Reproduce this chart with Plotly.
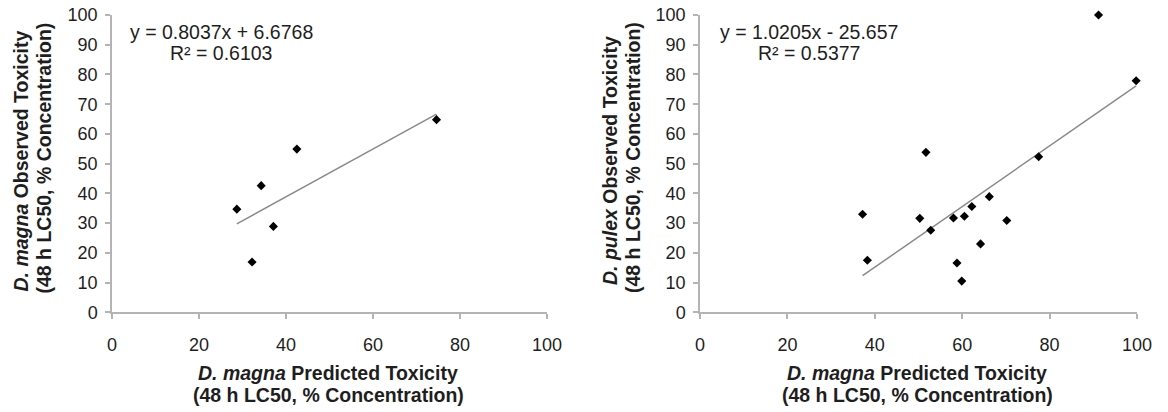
import plotly.graph_objects as go

# D. magna: predicted vs observed 48 h LC50 (% concentration)
magna_pred = [28.7, 34.3, 32.2, 37.1, 42.5, 74.6]
magna_obs = [34.7, 42.6, 16.9, 28.9, 54.9, 64.8]
magna_slope, magna_intercept, magna_r2 = 0.8037, 6.6768, 0.6103

# D. pulex observed vs D. magna predicted
pulex_pred = [37.2, 38.3, 50.3, 51.7, 52.8, 58.0, 58.8, 59.9, 60.5, 62.2,
              64.2, 66.2, 70.2, 77.5, 91.2, 99.8]
pulex_obs = [33.0, 17.5, 31.6, 53.8, 27.6, 31.7, 16.6, 10.5, 32.3, 35.6,
             23.0, 38.9, 30.9, 52.3, 100.0, 77.9]
pulex_slope, pulex_intercept, pulex_r2 = 1.0205, -25.657, 0.5377

axis_ticks = [0, 20, 40, 60, 80, 100]

FONT = "Liberation Sans, Arial, sans-serif"
TXT = "#1e1e1e"
AXC = "#b4b4b4"
W, H = 1168, 412


def px(xp):
    return xp / W


def py(yp):
    return 1 - yp / H


def trend(xs, m, b):
    lo, hi = min(xs), max(xs)
    return [lo, hi], [m * lo + b, m * hi + b]


fig = go.Figure()

for xs, ys, m, b, xa, ya in [
    (magna_pred, magna_obs, magna_slope, magna_intercept, "x", "y"),
    (pulex_pred, pulex_obs, pulex_slope, pulex_intercept, "x2", "y2"),
]:
    tx, ty = trend(xs, m, b)
    fig.add_trace(go.Scatter(x=tx, y=ty, mode="lines", xaxis=xa, yaxis=ya,
                             line=dict(color="#8a8a8a", width=1.5),
                             showlegend=False, hoverinfo="skip"))
    fig.add_trace(go.Scatter(x=xs, y=ys, mode="markers", xaxis=xa, yaxis=ya,
                             marker=dict(symbol="diamond", size=7, color="black"),
                             cliponaxis=False, showlegend=False))

xcommon = dict(range=[0, 100], tickvals=axis_ticks, showgrid=False, zeroline=False,
               showline=True, linecolor=AXC, linewidth=1.5, ticks="outside",
               ticklen=5, tickcolor=AXC, tickwidth=1.5, automargin=False,
               tickfont=dict(family=FONT, size=18, color=TXT),
               ticklabelstandoff=10)
ycommon = dict(range=[0, 100], dtick=10, showgrid=False, zeroline=False,
               showline=True, linecolor=AXC, linewidth=1.5, ticks="outside",
               ticklen=5, tickcolor=AXC, tickwidth=1.5, automargin=False,
               tickfont=dict(family=FONT, size=18, color=TXT),
               ticklabelstandoff=4)

ydom = [py(312.3), py(15)]
fig.update_layout(
    width=W, height=H,
    margin=dict(l=0, r=0, t=0, b=0, autoexpand=False),
    paper_bgcolor="white", plot_bgcolor="white",
    xaxis=dict(domain=[px(112), px(547)], anchor="y", **xcommon),
    yaxis=dict(domain=ydom, anchor="x", **ycommon),
    xaxis2=dict(domain=[px(700), px(1137)], anchor="y2", **xcommon),
    yaxis2=dict(domain=ydom, anchor="x2", **ycommon),
)

ann = []


def label(text, xc, yc, size, angle=0):
    ann.append(dict(x=px(xc), y=py(yc), xref="paper", yref="paper",
                    xanchor="center", yanchor="middle", text=text,
                    showarrow=False, textangle=angle,
                    font=dict(family=FONT, size=size, color=TXT)))


# regression equations, one line each
for xc, m, b, r2 in [(221, magna_slope, magna_intercept, magna_r2),
                     (808.5, pulex_slope, pulex_intercept, pulex_r2)]:
    sign = "+" if b >= 0 else "-"
    label(f"y = {m:.4f}x {sign} {abs(b):g}", xc, 31.5, 19.5)
    label(f"R² = {r2:.4f}", xc, 52.5, 19.5)

# x-axis titles
for xc in [328, 917]:
    label("<b><i>D. magna</i> Predicted Toxicity</b>", xc, 372.5, 19.5)
    label("<b>(48 h LC50, % Concentration)</b>", xc, 395, 19.5)

# y-axis titles
for x0, sp in [(0, "magna"), (589.5, "pulex")]:
    label(f"<b><i>D. {sp}</i> Observed Toxicity</b>", x0 + 20.5, 161, 19.5, -90)
    label("<b>(48 h LC50, % Concentration)</b>", x0 + 43.5, 158, 19.5, -90)

fig.update_layout(annotations=ann)

fig.write_html("out.html")
